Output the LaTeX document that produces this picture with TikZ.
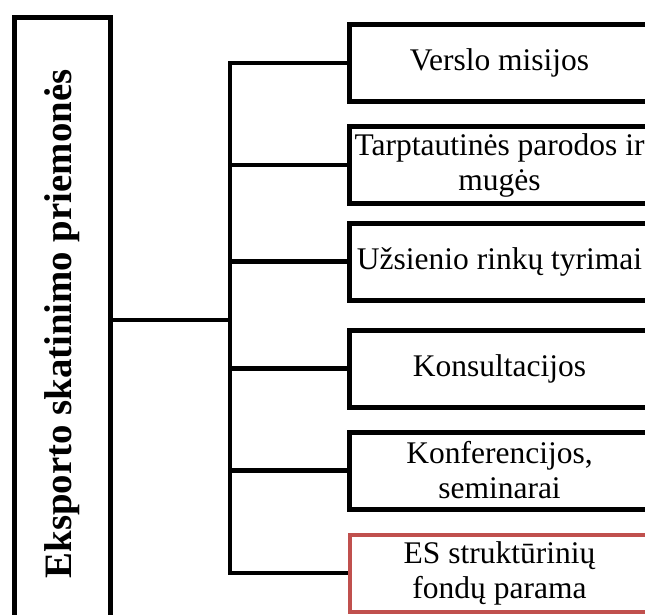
\documentclass[tikz,border=0pt]{standalone}
\usepackage{fontspec}
\setmainfont{Liberation Serif}
\tikzset{
	lnk/.style={line width=4.5pt},
	box/.style={draw, line width=5pt, minimum width=300pt, minimum height=77pt, inner sep=0pt, align=center, font=\fontsize{31.5}{35}\selectfont},
	redbox/.style={box, draw={rgb,255:red,192;green,80;blue,77}, line width=4pt},
	mainbox/.style={draw, line width=5pt, rotate=90, minimum width=613pt, minimum height=96pt, inner sep=0pt, font=\fontsize{38.8}{40}\selectfont\bfseries},
}

\begin{document}
\begin{tikzpicture}[x=1pt,y=-1pt]
	\useasboundingbox (0,0) rectangle (645,614);
	\clip (0,0) rectangle (645,614);

	\node [mainbox] (main) at (62.5,324) {Eksporto skatinimo priemonės};

	\node [box] (b1) at (499.5,63) {Verslo misijos};
	\node [box] (b2) at (499.5,165) {Tarptautinės parodos ir\\mugės};
	\node [box] (b3) at (499.5,261.5) {Užsienio rinkų tyrimai};
	\node [box] (b4) at (499.5,368.5) {Konsultacijos};
	\node [box] (b5) at (499.5,470.5) {Konferencijos,\\seminarai};
	\node [redbox] (b6) at (499.5,573) {ES struktūrinių\\fondų parama};

	\coordinate (spine) at (230,320);

	\draw [lnk] (main.south |- spine) -- (spine);
	\draw [lnk] (b1.west) -| (spine) |- (b6.west);
	\foreach \i in {2,3,4,5}
		\draw [lnk] (b\i.west) -- (b\i.west -| spine);
\end{tikzpicture}
\end{document}
